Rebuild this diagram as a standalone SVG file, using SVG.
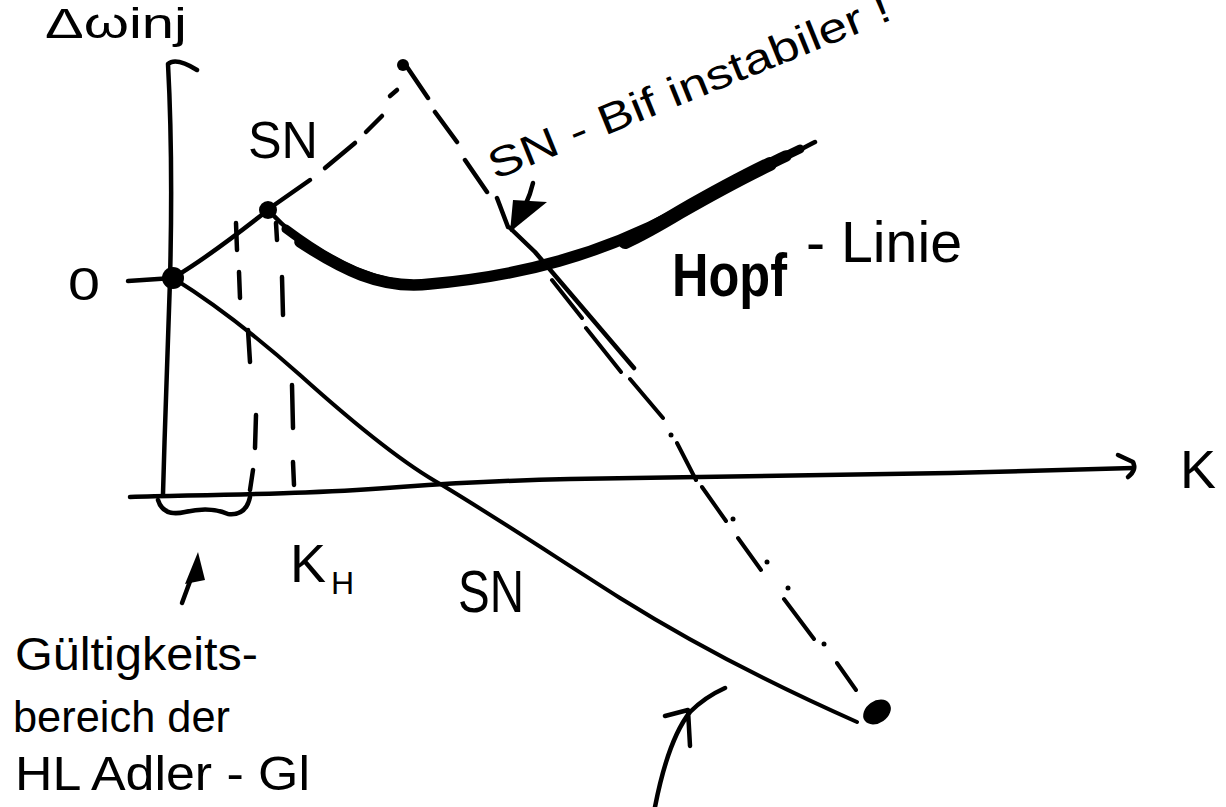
<svg xmlns="http://www.w3.org/2000/svg" width="1226" height="807" viewBox="0 0 1226 807">
<style>
.ln{fill:none;stroke:#000;stroke-width:4.5;stroke-linecap:round;stroke-linejoin:round}
.thin{stroke-width:4}
.hopf{stroke-width:9}
.hopf1{stroke-width:11.5}
.hopf2{stroke-width:14}
.t{font-family:"Liberation Sans",Arial,sans-serif;fill:#000}
.dot{fill:#000}
</style>
<rect width="1226" height="807" fill="#fff"/>
<g id="axes">
  <path class="ln" d="M163,494 C165,420 168,340 170,280 C172,200 171,120 168,64 Q176,57 197,70"/>
  <path class="ln" d="M130,497 C250,494 330,493 400,487 C470,482 520,480 570,479 L950,473 L1133,468"/>
  <path class="ln" d="M1118,455 L1133,462 Q1137,470 1128,477"/>
</g>
<g id="connectors">
  <path class="ln" d="M128,281 L173,278"/>
  <path class="ln" d="M173,278 C200,262 230,240 268,210"/>
  <path class="ln" d="M270,208 L310,180 M325,168 L355,143 M366,132 L382,116 M390,96 L397,90"/>
  <path class="ln" d="M407,67 L428,98 M435,112 L457,142 M465,160 L487,192 M497,198 L508,227"/>
  <path class="ln" d="M510,228 L535,252 L634,368"/>
  <path class="ln thin" d="M552,280 L582,318 M586,328 L621,372 M630,379 L663,418 M677,443 L696,480 M702,487 L726,521 M738,538 L761,570 M784,599 L814,639 M837,663 L856,690"/>
  <g class="dot"><circle cx="671" cy="435" r="2.5"/><circle cx="733" cy="519" r="2.5"/><circle cx="767" cy="562" r="2.5"/><circle cx="788" cy="588" r="2.5"/><circle cx="824" cy="644" r="2.5"/></g>
  <path class="ln thin" d="M173,278 C215,304 255,335 300,375 C350,420 400,462 442,485 C500,520 560,560 620,598 C700,648 780,688 857,722"/>
  <path class="ln" d="M268,210 C320,265 380,290 430,284 C520,276 600,255 680,212 C740,180 790,155 815,142"/>
  <path class="ln hopf" d="M286,229 C330,262 380,290 430,284 C520,276 600,255 680,212 C720,190 760,168 800,149"/>
  <path class="ln hopf1" d="M300,242 C340,268 380,290 430,284 C520,276 600,255 680,212 C720,190 760,168 786,156"/>
  <path class="ln hopf2" d="M625,242 C645,233 665,221 680,212 C715,192 745,176 770,164"/>
</g>
<g id="guides">
  <path class="ln" d="M236,223 L237,250 M239,272 L240,298 M248,330 L250,362 M256,415 L255,448 M253,470 L250,490"/>
  <path class="ln" d="M276,223 L277,240 M282,277 L283,315 M292,385 L293,428 M293,462 L294,485"/>
  <path class="ln" d="M158,500 Q163,517 185,512 Q210,506 228,514 Q246,516 250,497"/>
  <path class="ln" d="M182,603 L196,565"/>
  <polygon class="dot" points="198,552 185,584 205,580"/>
  <path class="ln" d="M533,183 Q528,205 512,228"/>
  <polygon class="dot" points="513,200 547,202 510,232"/>
  <path class="ln" d="M655,807 Q668,740 690,712 Q705,697 725,688 M665,716 L688,710 L690,746"/>
</g>
<g id="node-origin"><circle class="dot" cx="173" cy="278" r="11"/></g>
<g id="node-sn"><circle class="dot" cx="268" cy="210" r="9"/></g>
<g id="node-peak"><circle class="dot" cx="403" cy="65" r="6"/></g>
<g id="node-end"><ellipse class="dot" cx="877" cy="712" rx="15" ry="11" transform="rotate(-35 877 712)"/></g>
<g id="labels">
  <text class="t" x="45" y="38" font-size="42" textLength="142" lengthAdjust="spacingAndGlyphs">Δωinj</text>
  <text class="t" x="248" y="158" font-size="52" textLength="70" lengthAdjust="spacingAndGlyphs">SN</text>
  <text class="t" font-size="42" transform="translate(495,180) rotate(-22)" textLength="430" lengthAdjust="spacingAndGlyphs">SN - Bif instabiler !</text>
  <text class="t" x="672" y="296" font-size="62" font-weight="bold" textLength="115" lengthAdjust="spacingAndGlyphs">Hopf</text>
  <text class="t" x="806" y="262" font-size="58" textLength="156" lengthAdjust="spacingAndGlyphs">- Linie</text>
  <text class="t" x="68" y="300" font-size="46" textLength="32" lengthAdjust="spacingAndGlyphs">0</text>
  <text class="t" x="1180" y="488" font-size="54">K</text>
  <text class="t" x="290" y="582" font-size="54">K</text>
  <text class="t" x="331" y="594" font-size="32">H</text>
  <text class="t" x="458" y="612" font-size="60" textLength="66" lengthAdjust="spacingAndGlyphs">SN</text>
  <text class="t" x="15" y="670" font-size="46" textLength="243" lengthAdjust="spacingAndGlyphs">Gültigkeits-</text>
  <text class="t" x="13" y="732" font-size="44" textLength="217" lengthAdjust="spacingAndGlyphs">bereich der</text>
  <text class="t" x="15" y="790" font-size="48" textLength="295" lengthAdjust="spacingAndGlyphs">HL Adler - Gl</text>
</g>
</svg>
